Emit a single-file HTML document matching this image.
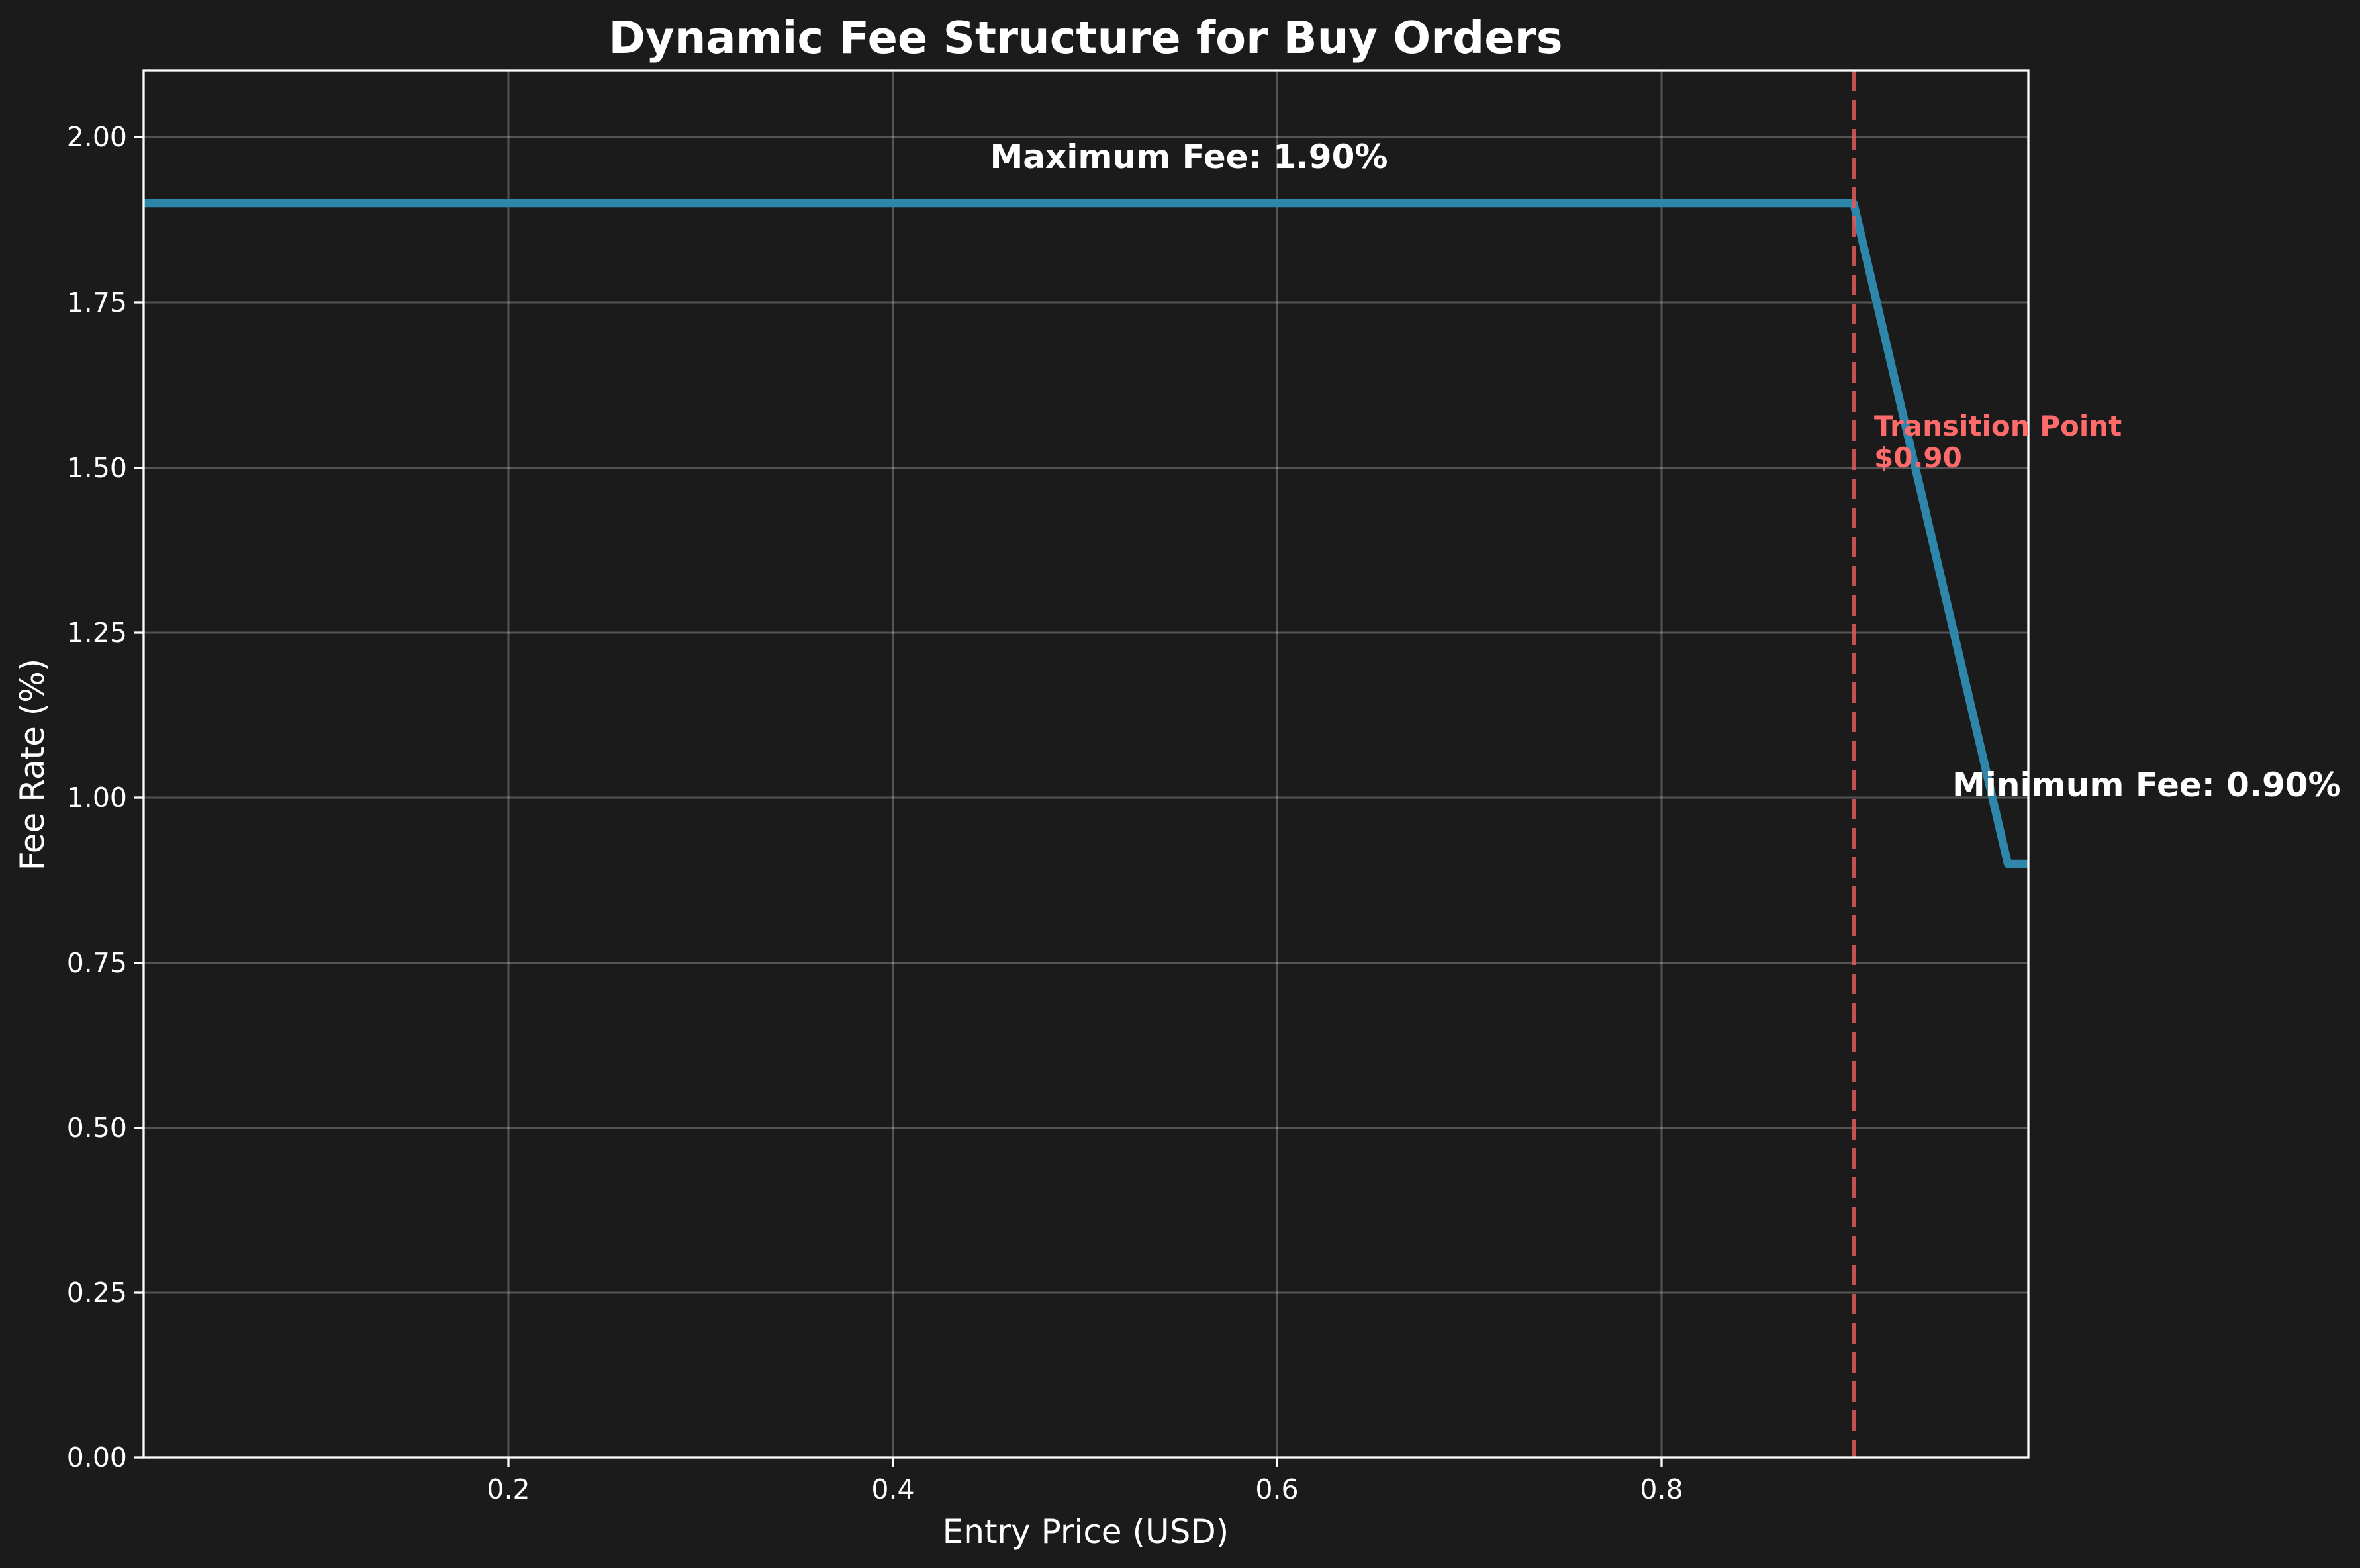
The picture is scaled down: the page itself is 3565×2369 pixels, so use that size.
<!DOCTYPE html>
<html><head><meta charset="utf-8"><style>
html,body{margin:0;padding:0;background:#1b1b1b;}
svg{display:block;}
text{font-family:"DejaVu Sans","Liberation Sans",sans-serif;fill:#fff;}
</style></head><body>
<svg width="3565" height="2369" viewBox="0 0 3565 2369" xmlns="http://www.w3.org/2000/svg">
<rect width="3565" height="2369" fill="#1b1b1b"/>
<g stroke="#ffffff" stroke-opacity="0.25" stroke-width="3">
<line x1="768" y1="107" x2="768" y2="2202"/>
<line x1="1349" y1="107" x2="1349" y2="2202"/>
<line x1="1929" y1="107" x2="1929" y2="2202"/>
<line x1="2510" y1="107" x2="2510" y2="2202"/>
<line x1="217" y1="1953" x2="3064" y2="1953"/>
<line x1="217" y1="1704" x2="3064" y2="1704"/>
<line x1="217" y1="1455" x2="3064" y2="1455"/>
<line x1="217" y1="1205" x2="3064" y2="1205"/>
<line x1="217" y1="956" x2="3064" y2="956"/>
<line x1="217" y1="707" x2="3064" y2="707"/>
<line x1="217" y1="457" x2="3064" y2="457"/>
<line x1="217" y1="207" x2="3064" y2="207"/>
</g>
<polyline points="217,307 2800,307 3033,1305 3064,1305" fill="none" stroke="#2e86ab" stroke-width="12.5" stroke-linejoin="round"/>
<line x1="2801" y1="107" x2="2801" y2="2202" stroke="#e05a5a" stroke-opacity="0.85" stroke-width="6" stroke-dasharray="31,13"/>
<rect x="217" y="107" width="2847" height="2095" fill="none" stroke="#fff" stroke-width="3.3"/>
<g stroke="#fff" stroke-width="3.3">
<line x1="768" y1="2202" x2="768" y2="2217"/>
<line x1="1349" y1="2202" x2="1349" y2="2217"/>
<line x1="1929" y1="2202" x2="1929" y2="2217"/>
<line x1="2510" y1="2202" x2="2510" y2="2217"/>
<line x1="202" y1="2202" x2="217" y2="2202"/>
<line x1="202" y1="1953" x2="217" y2="1953"/>
<line x1="202" y1="1704" x2="217" y2="1704"/>
<line x1="202" y1="1455" x2="217" y2="1455"/>
<line x1="202" y1="1205" x2="217" y2="1205"/>
<line x1="202" y1="956" x2="217" y2="956"/>
<line x1="202" y1="707" x2="217" y2="707"/>
<line x1="202" y1="457" x2="217" y2="457"/>
<line x1="202" y1="207" x2="217" y2="207"/>
</g>
<g font-size="41" text-anchor="middle">
<text x="768" y="2264">0.2</text>
<text x="1349" y="2264">0.4</text>
<text x="1929" y="2264">0.6</text>
<text x="2510" y="2264">0.8</text>
</g>
<g font-size="41" text-anchor="end">
<text x="192" y="2216">0.00</text>
<text x="192" y="1967">0.25</text>
<text x="192" y="1718">0.50</text>
<text x="192" y="1469">0.75</text>
<text x="192" y="1219">1.00</text>
<text x="192" y="970">1.25</text>
<text x="192" y="721">1.50</text>
<text x="192" y="471">1.75</text>
<text x="192" y="221">2.00</text>
</g>
<text x="1640" y="80" font-size="67" font-weight="bold" text-anchor="middle">Dynamic Fee Structure for Buy Orders</text>
<text x="1640" y="2331" font-size="50" text-anchor="middle">Entry Price (USD)</text>
<text transform="translate(66,1155) rotate(-90)" font-size="50" text-anchor="middle">Fee Rate (%)</text>
<text x="1796" y="254" font-size="50" font-weight="bold" text-anchor="middle">Maximum Fee: 1.90%</text>
<text x="2949" y="1203" font-size="50" font-weight="bold">Minimum Fee: 0.90%</text>
<text x="2831" y="658" font-size="42" font-weight="bold" style="fill:#ff6b6b">Transition Point</text>
<text x="2831" y="706" font-size="42" font-weight="bold" style="fill:#ff6b6b">$0.90</text>
</svg>
</body></html>
